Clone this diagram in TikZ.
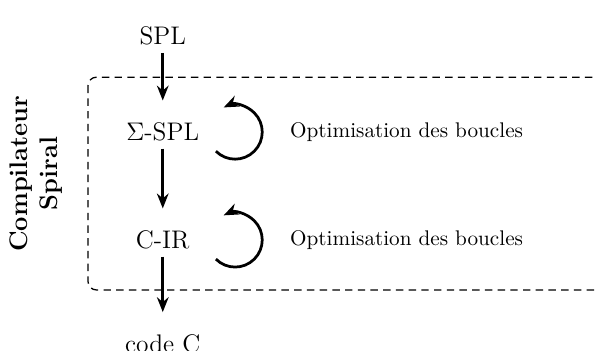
\documentclass[tikz,border=0pt]{standalone}
\usetikzlibrary{arrows.meta}
\begin{document}
\begin{tikzpicture}[font=\large]
      \useasboundingbox (0,0) rectangle (9.87,-5.82);
      \clip (0,0) rectangle (9.87,-5.82);
      \draw
        (2.7,-0.6) node (spl){SPL}
        (2.7,-2.19) node (sspl){$\Sigma$-SPL}
        (2.7,-3.98) node (cir){C-IR}
        (2.7,-5.7) node (codec){code C};
      \draw[semithick, dash pattern=on 3.5pt off 2.5pt, rounded corners=4pt] (1.46,-1.28) rectangle (10.5,-4.81);
      \node[rotate=90, align=center, font=\large\bfseries] (spiral) at (0.6,-2.88) {Compilateur\\Spiral};
      \draw
        (4.69,-2.19) node[anchor=west, font=\normalsize] (opt1){Optimisation des boucles}
        (4.69,-3.98) node[anchor=west, font=\normalsize] (opt2){Optimisation des boucles};
      \coordinate (b1) at (3.9,-2.19);
      \coordinate (b2) at (3.9,-3.98);
      \begin{scope}[line width=1.3pt, -{Stealth[length=7pt,width=5.5pt]}]
        \draw[shorten >=7pt] (spl) to (sspl);
        \draw[shorten >=7pt] (sspl) to (cir);
        \draw[shorten >=7pt] (cir) to (codec);
        \draw (b1) ++(-135:0.45) arc[start angle=-135, end angle=115, radius=0.45];
        \draw (b2) ++(-135:0.45) arc[start angle=-135, end angle=115, radius=0.45];
      \end{scope}
\end{tikzpicture}
\end{document}
